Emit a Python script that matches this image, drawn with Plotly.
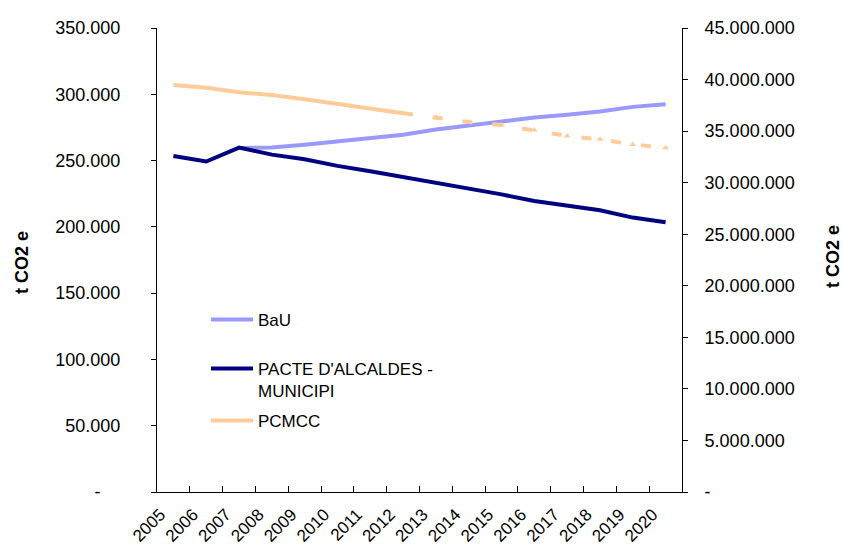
import plotly.graph_objects as go

years = [str(y) for y in range(2005, 2021)]
bau = [None, None, 259500, 259800, 262000, 264500, 267000, 269500, 273500,
       276300, 279300, 282500, 284500, 287000, 290500, 292400]
pacte = [253400, 249300, 259800, 254500, 251000, 246000, 242000, 237800, 233500,
         229000, 224500, 219500, 216000, 212500, 207000, 203500]
pcmcc = [39470000, 39200000, 38760000, 38500000, 38080000, 37630000, 37200000, 36730000,
         None, None, None, None, None, None, None, None]
pcmcc_proj = [None, None, None, None, None, None, None, 36730000,
              36340000, 35880000, 35590000, 35100000, 34530000, 34200000, 33710000, 33390000]

left_ticks = list(range(0, 350001, 50000))
right_ticks = list(range(0, 45000001, 5000000))


def fmt(v, zero):
    return zero if v == 0 else f"{v:,}".replace(",", ".")


FONT = "Liberation Sans, Arial, sans-serif"

fig = go.Figure()
fig.add_trace(go.Scatter(x=years, y=bau, name="BaU", mode="lines",
                         line=dict(color="#9999FF", width=4), legend="legend"))
fig.add_trace(go.Scatter(x=years, y=pacte, name="PACTE D'ALCALDES -<br>MUNICIPI", mode="lines",
                         line=dict(color="#000080", width=4), legend="legend2"))
fig.add_trace(go.Scatter(x=years, y=pcmcc, name="PCMCC", mode="lines", yaxis="y2",
                         line=dict(color="#FFCC99", width=4), legend="legend3"))
fig.add_trace(go.Scatter(x=years, y=pcmcc_proj, name="PCMCC proj", mode="lines+markers", yaxis="y2",
                         line=dict(color="#FFCC99", width=4, dash="10px,20px"),
                         marker=dict(symbol="triangle-up", size=6, color="#FFCC99"),
                         showlegend=False))

W, H = 843, 550
L, R, T, B = 157, 682, 28, 492


def px(x):
    return (x - L) / (R - L)


def py(y):
    return (B - y) / (B - T)


leg_common = dict(bgcolor="rgba(0,0,0,0)", borderwidth=0, font=dict(family=FONT, size=17, color="#000"),
                  xanchor="left", yanchor="middle", itemwidth=42, valign="top")

fig.update_layout(
    width=W, height=H,
    margin=dict(l=L, r=W - R, t=T, b=H - B, autoexpand=False),
    paper_bgcolor="white", plot_bgcolor="white",
    font=dict(family=FONT, size=17, color="#000"),
    showlegend=True,
    legend=dict(x=px(206), y=py(320), **leg_common),
    legend2=dict(x=px(206), y=py(380), **leg_common),
    legend3=dict(x=px(206), y=py(421), **leg_common),
    xaxis=dict(type="category", range=[-0.5, 15.5], tickson="boundaries", ticks="inside", ticklen=6,
               tickcolor="#000", showline=True, linecolor="#000", linewidth=1, showgrid=False,
               tickangle=-45, tickfont=dict(family=FONT, size=17), zeroline=False, automargin=False,
               ticklabelshift=-13, ticklabelstandoff=5),
    yaxis=dict(range=[0, 350000], tickvals=left_ticks,
               ticktext=[fmt(v, "-\u00a0\u00a0\u00a0\u00a0") for v in left_ticks],
               ticks="outside", ticklen=5, tickcolor="#000", showline=True, linecolor="#000",
               linewidth=1, showgrid=False, zeroline=False, ticklabelstandoff=27,
               tickfont=dict(family=FONT, size=18), automargin=False),
    yaxis2=dict(range=[0, 45000000], tickvals=right_ticks,
                ticktext=[fmt(v, "-") for v in right_ticks], overlaying="y", side="right",
                ticks="outside", ticklen=5, tickcolor="#000", showline=True, linecolor="#000",
                linewidth=1, showgrid=False, zeroline=False, ticklabelstandoff=13,
                tickfont=dict(family=FONT, size=18), automargin=False),
    annotations=[
        dict(text="<b>t CO2 e</b>", x=px(22), y=py(263), xref="paper", yref="paper",
             textangle=-90, showarrow=False, xanchor="center", yanchor="middle",
             font=dict(family=FONT, size=18)),
        dict(text="<b>t CO2 e</b>", x=px(833), y=py(257), xref="paper", yref="paper",
             textangle=-90, showarrow=False, xanchor="center", yanchor="middle",
             font=dict(family=FONT, size=18)),
    ],
)

fig.write_html("out.html", config={"displayModeBar": False},
               post_script="document.body.style.margin='0';")
